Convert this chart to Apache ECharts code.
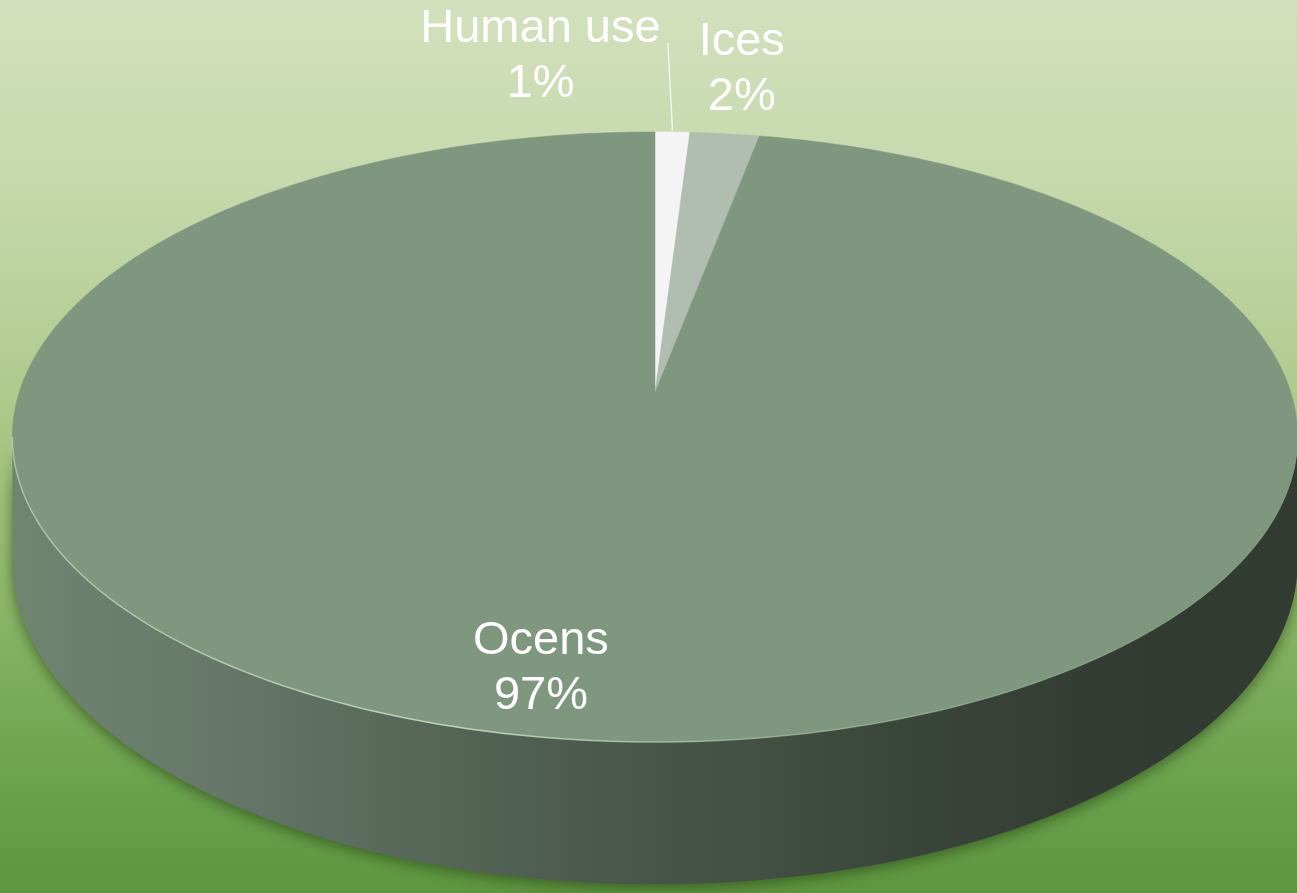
<!DOCTYPE html>
<html>
<head>
<meta charset="utf-8">
<script src="https://cdn.jsdelivr.net/npm/echarts@6/dist/echarts.min.js"></script>
<style>
html,body{margin:0;padding:0;width:1297px;height:893px;overflow:hidden;}
#chart{width:1297px;height:893px;}
</style>
</head>
<body>
<div id="chart"></div>
<script>
// ---- data ----
const categories = ['Human use', 'Ices', 'Ocens'];
const values = [1, 2, 97];

// ---- style ----
const sliceColors = ['#f4f4f4', '#b0bdb0', '#7f977f'];
const labelOffsets = [          // pixel offsets from label anchor (mid-angle, radius)
  { r: 1.0, dx: -132, dy: -75, leader: true },
  { r: 1.0, dx: 17, dy: -64, leader: false },
  { r: 0.8, dx: -60, dy: 7, leader: false }
];
const K = 0.144;      // perspective factor
const DEPTH = 0.408;  // pie thickness (in y-axis units)

const total = values.reduce((a, b) => a + b, 0);
const starts = [];
values.reduce((acc, v) => { starts.push(acc); return acc + v; }, 0);
const seriesData = values.map((v, i) => [starts[i], v, i]);

function proj(theta, r, down) {
  const X = r * Math.sin(theta), Y = r * Math.cos(theta);
  const w = 1 + K * Y;
  return [X / w, (Y - (down ? DEPTH : 0)) / w];
}
const thetaS = Math.acos(-K);

const sideGradient = new echarts.graphic.LinearGradient(10, 0, 1298, 0, [
  { offset: 0, color: '#6e8670' },
  { offset: 0.15, color: '#66796a' },
  { offset: 0.3, color: '#58695a' },
  { offset: 0.45, color: '#4b5a4c' },
  { offset: 0.69, color: '#3b463b' },
  { offset: 0.85, color: '#333c33' },
  { offset: 1, color: '#323b32' }
], true);
const rimGradient = new echarts.graphic.LinearGradient(10, 0, 1298, 0, [
  { offset: 0, color: 'rgba(205,232,200,0.55)' },
  { offset: 0.35, color: 'rgba(205,232,200,0.8)' },
  { offset: 0.6, color: 'rgba(205,232,200,0.35)' },
  { offset: 1, color: 'rgba(205,232,200,0.0)' }
], true);

function renderItem(params, api) {
  const i = api.value(2);
  const s = api.value(0), v = api.value(1);
  const a0 = s / total * Math.PI * 2, a1 = (s + v) / total * Math.PI * 2;
  const children = [];
  const N = Math.max(4, Math.ceil((a1 - a0) / (Math.PI / 180)));
  // top face
  const top = [api.coord(proj(0, 0, false))];
  for (let j = 0; j <= N; j++) top.push(api.coord(proj(a0 + (a1 - a0) * j / N, 1, false)));
  children.push({ type: 'polygon', z2: 10, shape: { points: top },
    style: { fill: sliceColors[i], stroke: sliceColors[i], lineWidth: 0.5 } });
  // side wall (front visible part)
  const lo = Math.max(a0, thetaS), hi = Math.min(a1, 2 * Math.PI - thetaS);
  if (hi > lo) {
    const M = Math.ceil((hi - lo) / (Math.PI / 180));
    const side = [], rim = [];
    for (let j = 0; j <= M; j++) { const p = api.coord(proj(lo + (hi - lo) * j / M, 1, false)); side.push(p); rim.push(p); }
    for (let j = M; j >= 0; j--) side.push(api.coord(proj(lo + (hi - lo) * j / M, 1, true)));
    children.push({ type: 'polygon', z2: 1, shape: { points: side },
      style: { fill: sideGradient, shadowBlur: 14, shadowColor: 'rgba(40,70,20,0.65)', shadowOffsetY: 4 } });
    children.push({ type: 'polyline', z2: 11, shape: { points: rim },
      style: { fill: null, stroke: rimGradient, lineWidth: 1.5 } });
  }
  // label
  const lo2 = labelOffsets[i];
  const mid = (a0 + a1) / 2;
  const anc = api.coord(proj(mid, lo2.r, false));
  const pct = Math.round(v / total * 100) + '%';
  children.push({ type: 'text', z2: 20, style: {
    text: categories[i] + '\n' + pct, x: anc[0] + lo2.dx, y: anc[1] + lo2.dy,
    fill: '#ffffff', font: '47px "Liberation Sans", Arial, sans-serif',
    align: 'center', verticalAlign: 'middle', lineHeight: 55 } });
  if (lo2.leader) {
    children.push({ type: 'line', z2: 20, shape: { x1: anc[0], y1: anc[1] - 1, x2: anc[0] - 4.5, y2: anc[1] - 89 },
      style: { stroke: '#f2f2f2', lineWidth: 1.5 } });
  }
  return { type: 'group', children };
}

const chart = echarts.init(document.getElementById('chart'), null, { renderer: 'canvas' });
chart.setOption({
  backgroundColor: new echarts.graphic.LinearGradient(0, 0, 0, 1, [
    { offset: 0, color: '#d3e0bd' },
    { offset: 0.2, color: '#c6d9ad' },
    { offset: 0.4, color: '#b3cd93' },
    { offset: 0.55, color: '#a0c27a' },
    { offset: 0.75, color: '#7fae5e' },
    { offset: 0.88, color: '#6ba14d' },
    { offset: 1, color: '#5e9540' }
  ]),
  animation: false,
  grid: { left: 19, width: 1272, top: 94.3, height: 597.4 },
  xAxis: { type: 'value', min: -1, max: 1, show: false },
  yAxis: { type: 'value', min: -1, max: 1, show: false },
  series: [{
    type: 'custom',
    renderItem: renderItem,
    data: seriesData,
    clip: false
  }]
});
</script>
</body>
</html>
